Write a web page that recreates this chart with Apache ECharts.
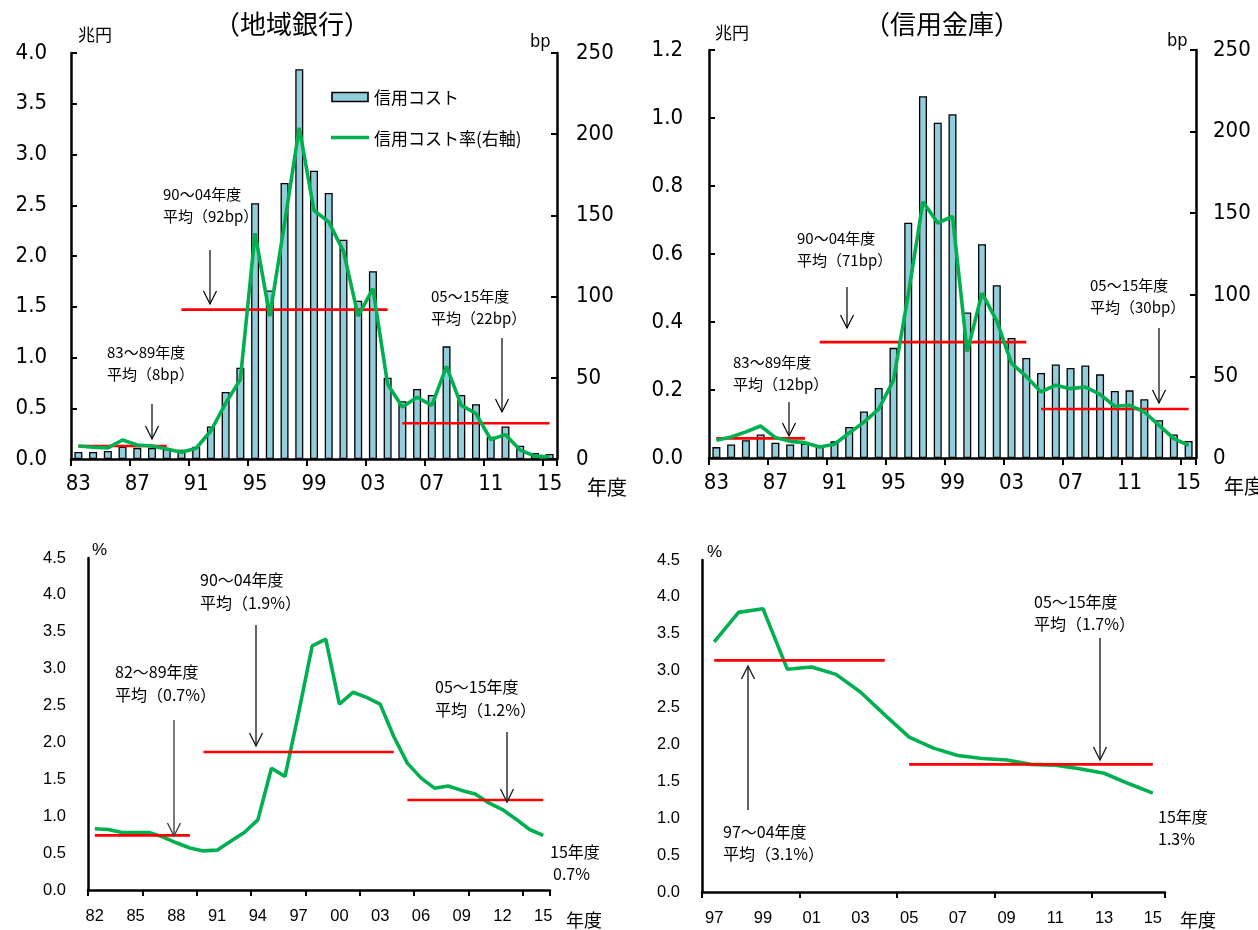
<!DOCTYPE html>
<html><head><meta charset="utf-8">
<script src="https://cdn.jsdelivr.net/npm/echarts@6/dist/echarts.min.js"></script>
<style>html,body{margin:0;padding:0;background:#fff}#c{width:1258px;height:930px}</style>
</head><body><div id="c"></div>
<script>
// ---------- data ----------
const yearsTop = ['83','84','85','86','87','88','89','90','91','92','93','94','95','96','97','98','99','00','01','02','03','04','05','06','07','08','09','10','11','12','13','14','15'];
const yearsRegionalRatio = ['82','83','84','85','86','87','88','89','90','91','92','93','94','95','96','97','98','99','00','01','02','03','04','05','06','07','08','09','10','11','12','13','14','15'];
const yearsShinkinRatio = ['97','98','99','00','01','02','03','04','05','06','07','08','09','10','11','12','13','14','15'];

// 地域銀行 信用コスト (兆円)
const regionalCost = [0.07,0.07,0.08,0.12,0.11,0.11,0.10,0.09,0.12,0.32,0.66,0.90,2.52,1.66,2.72,3.84,2.84,2.62,2.16,1.56,1.85,0.80,0.57,0.69,0.63,1.11,0.63,0.54,0.22,0.32,0.13,0.06,0.05];
// 地域銀行 信用コスト率 (bp)
const regionalRate = [8,7.2,6.8,11.7,8.6,8,6.2,4.1,6.6,17.4,34.3,49,139,88,145,204,153,146,128,88,105,46,32,38,33,57,33,28,12,15,5.5,1.8,1.4];
// 信用金庫 信用コスト (兆円)
const shinkinCost = [0.032,0.04,0.052,0.069,0.045,0.04,0.042,0.035,0.049,0.091,0.137,0.206,0.324,0.692,1.064,0.986,1.011,0.428,0.629,0.508,0.353,0.294,0.25,0.275,0.265,0.272,0.246,0.197,0.199,0.173,0.111,0.069,0.05];
// 信用金庫 信用コスト率 (bp)
const shinkinRate = [10.9,12.9,16,19.6,12.5,10.2,9.4,6.8,8.4,15.3,22,30,47.6,100,157,144,148,65,101,84,58,50,40.5,44.6,42.5,43.5,39,31.7,32.3,28.2,20,11.9,7.8];
// 地域銀行 (%) 82-15
const regionalRatio = [0.83,0.82,0.78,0.78,0.78,0.72,0.64,0.57,0.53,0.54,0.66,0.78,0.95,1.65,1.54,2.40,3.31,3.40,2.52,2.68,2.61,2.52,2.08,1.72,1.52,1.38,1.41,1.35,1.30,1.18,1.09,0.96,0.82,0.74];
// 信用金庫 (%) 97-15
const shinkinRatio = [3.39,3.79,3.84,3.02,3.05,2.95,2.71,2.40,2.10,1.95,1.85,1.81,1.79,1.73,1.72,1.67,1.61,1.47,1.34];

// period averages [from, to, value]
const regionalRateAvg = [['83','89',8],['90','04',92],['05','15',22]];
const shinkinRateAvg = [['83','89',12],['90','04',71],['05','15',30]];
const regionalRatioAvg = [['82','89',0.74],['90','04',1.87],['05','15',1.22]];
const shinkinRatioAvg = [['97','04',3.14],['05','15',1.73]];

// ---------- styles ----------
const NARROW = "'Liberation Sans Narrow','DejaVu Sans Condensed','Liberation Sans',sans-serif";
const JP = "'Noto Sans CJK JP',sans-serif";
const LAT = "'Liberation Sans','Noto Sans',sans-serif";
const GREEN = '#00B050', RED = '#FF0000', BAR = '#92CDDC';

const axisLine = {show:true, onZero:false, lineStyle:{color:'#000', width:2.5}};

function xCat(gridIndex, data, labelInterval, fontFamily, fontSize, margin, tickLen){
  return {type:'category', gridIndex, data, boundaryGap:true, axisLine,
    axisTick:{show:true, interval:3, alignWithLabel:false, length:tickLen, lineStyle:{color:'#000', width:2}},
    axisLabel:{interval:labelInterval, color:'#000', fontFamily, fontSize, margin},
    splitLine:{show:false}};
}
function yVal(gridIndex, position, min, max, interval, fmt, fontFamily, fontSize, margin, ticks){
  return {type:'value', gridIndex, position, min, max, interval, axisLine,
    axisTick:{show:ticks, inside:true, length:6, lineStyle:{color:'#000', width:2}},
    axisLabel:{color:'#000', fontFamily, fontSize, margin, formatter:fmt},
    splitLine:{show:false}};
}
const f1 = v => v.toFixed(1);
const f0 = v => String(v);

function avgSeries(cats, avgs, xi, yi, z){
  return avgs.map(([f,t,v]) => {
    const a = cats.indexOf(f), b = cats.indexOf(t);
    return {type:'line', xAxisIndex:xi, yAxisIndex:yi, symbol:'none', silent:true, z,
      lineStyle:{color:RED, width:2.6},
      data: cats.map((c,i)=> (i>=a && i<=b) ? v : null)};
  });
}
function barSeries(name, data, xi, yi){
  return {type:'bar', name, xAxisIndex:xi, yAxisIndex:yi, data, barWidth:8, z:2,
    itemStyle:{color:BAR, borderColor:'#000', borderWidth:1.3}};
}
function lineSeries(name, data, xi, yi, z){
  return {type:'line', name, xAxisIndex:xi, yAxisIndex:yi, data, symbol:'none', z,
    lineStyle:{color:GREEN, width:3.6}};
}

// ---------- annotations (layout only) ----------
const g = [];
function txt(x, y, s, size, family, align){
  g.push({type:'text', z:100, style:{x, y, text:s, fill:'#000', fontSize:size, fontFamily:family,
    align: align||'left', verticalAlign:'middle'}});
}
function arrow(x, y1, y2, color, w){
  const dir = y2 > y1 ? 1 : -1;
  g.push({type:'line', z:100, shape:{x1:x, y1, x2:x, y2}, style:{stroke:color, lineWidth:w}});
  g.push({type:'polyline', z:100, shape:{points:[[x-6.5, y2-dir*13],[x, y2],[x+6.5, y2-dir*13]]},
    style:{stroke:color, lineWidth:w, fill:null}});
}
// titles
txt(292, 24, '（地域銀行）', 26, JP, 'center');
txt(942, 24, '（信用金庫）', 26, JP, 'center');
// units
txt(78, 35, '兆円', 17, JP); txt(530, 42, 'bp', 18, NARROW);
txt(715, 33, '兆円', 17, JP); txt(1167, 41, 'bp', 18, NARROW);
txt(587, 487, '年度', 20, JP); txt(1224, 486, '年度', 20, JP);
txt(92, 550, '%', 17, LAT); txt(707, 552, '%', 17, LAT);
txt(566, 920, '年度', 18, JP); txt(1180, 920, '年度', 18, JP);
// legend
g.push({type:'rect', z:100, shape:{x:332, y:92.5, width:36, height:9}, style:{fill:BAR, stroke:'#000', lineWidth:1.6}});
txt(374, 98, '信用コスト', 17, JP);
g.push({type:'line', z:100, shape:{x1:331, y1:137.5, x2:369, y2:137.5}, style:{stroke:GREEN, lineWidth:3.6}});
txt(374, 139, '信用コスト率(右軸)', 17, JP);
// panel 1 notes
txt(107, 352, '83～89年度', 15, JP); txt(107, 374, '平均（8bp）', 15, JP); arrow(152, 404, 439, '#000', 1.2);
txt(163, 194, '90～04年度', 15, JP); txt(163, 216, '平均（92bp）', 15, JP); arrow(210, 250, 304, '#000', 1.2);
txt(431, 296, '05～15年度', 15, JP); txt(431, 318, '平均（22bp）', 15, JP); arrow(502, 338, 412, '#000', 1.2);
// panel 2 notes
txt(733, 362, '83～89年度', 15, JP); txt(733, 384, '平均（12bp）', 15, JP); arrow(789, 402, 436, '#000', 1.2);
txt(797, 238, '90～04年度', 15, JP); txt(797, 260, '平均（71bp）', 15, JP); arrow(847, 287, 328, '#000', 1.2);
txt(1090, 285, '05～15年度', 15, JP); txt(1090, 307, '平均（30bp）', 15, JP); arrow(1159, 328, 403, '#000', 1.2);
// panel 3 notes
txt(115, 672, '82～89年度', 16, JP); txt(115, 695, '平均（0.7%）', 16, JP); arrow(174, 720, 836, '#444', 1.4);
txt(200, 580, '90～04年度', 16, JP); txt(200, 603, '平均（1.9%）', 16, JP); arrow(256, 625, 746, '#222', 1.4);
txt(435, 687, '05～15年度', 16, JP); txt(435, 710, '平均（1.2%）', 16, JP); arrow(507, 732, 802, '#222', 1.4);
txt(550, 852, '15年度', 16, JP); txt(553, 874, '0.7%', 16, JP);
// panel 4 notes
txt(723, 832, '97～04年度', 16, JP); txt(723, 854, '平均（3.1%）', 16, JP); arrow(748, 810, 666, '#222', 1.4);
txt(1034, 602, '05～15年度', 16, JP); txt(1034, 624, '平均（1.7%）', 16, JP); arrow(1100, 638, 760, '#222', 1.4);
txt(1158, 817, '15年度', 16, JP); txt(1158, 839, '1.3%', 16, JP);

const option = {
  animation:false,
  backgroundColor:'#fff',
  grid:[
    {left:71, top:53, width:486, height:406, outerBoundsMode:'none'},
    {left:709, top:50, width:487, height:408, outerBoundsMode:'none'},
    {left:88, top:558, width:462, height:332, outerBoundsMode:'none'},
    {left:702, top:560, width:463, height:332, outerBoundsMode:'none'}
  ],
  xAxis:[
    xCat(0, yearsTop, 3, NARROW, 22, 14, 7),
    xCat(1, yearsTop, 3, NARROW, 22, 14, 7),
    xCat(2, yearsRegionalRatio, 2, LAT, 16.5, 18, 6),
    xCat(3, yearsShinkinRatio, 1, LAT, 16.5, 18, 6)
  ],
  yAxis:[
    yVal(0, 'left', 0, 4, 0.5, f1, NARROW, 22, 24, true),
    yVal(0, 'right', 0, 250, 50, f0, NARROW, 22, 19, true),
    yVal(1, 'left', 0, 1.2, 0.2, f1, NARROW, 22, 26, true),
    yVal(1, 'right', 0, 250, 50, f0, NARROW, 22, 17, true),
    yVal(2, 'left', 0, 4.5, 0.5, f1, LAT, 16.5, 22, false),
    yVal(3, 'left', 0, 4.5, 0.5, f1, LAT, 16.5, 22, false)
  ],
  series:[
    barSeries('信用コスト', regionalCost, 0, 0),
    ...avgSeries(yearsTop, regionalRateAvg, 0, 1, 3),
    lineSeries('信用コスト率(右軸)', regionalRate, 0, 1, 4),
    barSeries('信用コスト（信金）', shinkinCost, 1, 2),
    ...avgSeries(yearsTop, shinkinRateAvg, 1, 3, 3),
    lineSeries('信用コスト率（信金）', shinkinRate, 1, 3, 4),
    lineSeries('地域銀行', regionalRatio, 2, 4, 3),
    ...avgSeries(yearsRegionalRatio, regionalRatioAvg, 2, 4, 4),
    lineSeries('信用金庫', shinkinRatio, 3, 5, 3),
    ...avgSeries(yearsShinkinRatio, shinkinRatioAvg, 3, 5, 4)
  ],
  graphic: g
};
const chart = echarts.init(document.getElementById('c'));
chart.setOption(option);
</script>
</body></html>
